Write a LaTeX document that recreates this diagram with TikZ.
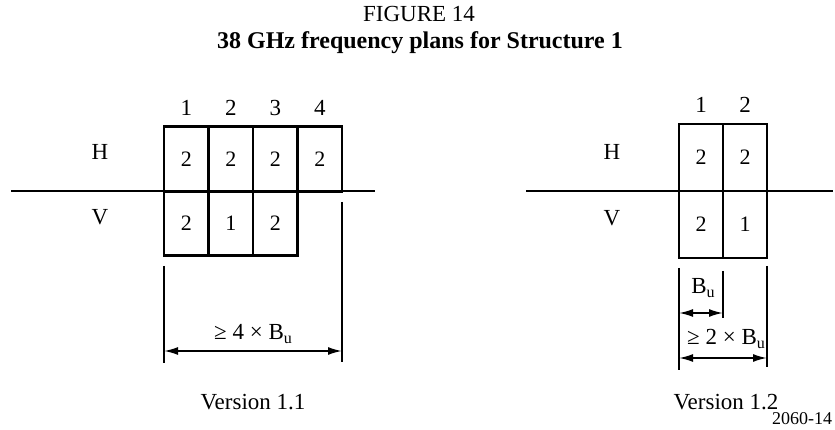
\documentclass[tikz,border=0pt]{standalone}
\usepackage{fontspec}
\setmainfont{Liberation Serif}
\usetikzlibrary{arrows.meta}

\newcommand{\Bu}{B\raisebox{-0.4ex}{\fontsize{16}{16}\selectfont u}}

\begin{document}
\begin{tikzpicture}[
    x=1pt, y=-1pt,
    txt/.style={font=\fontsize{23}{26}\selectfont, inner sep=0pt},
    cell/.style={draw, line width=2.8pt, minimum width=44.5pt, minimum height=64.5pt,
                 inner sep=0pt, font=\fontsize{22}{26}\selectfont},
    axis/.style={line width=1.8pt},
    ext/.style={line width=1.3pt},
    dim/.style={{Latex[length=14pt,width=8pt]}-{Latex[length=14pt,width=8pt]}, line width=1.8pt}
]
\useasboundingbox (0,0) rectangle (835,430);

% ============================================================
% Heading
% ============================================================
\node[txt] (fig) at (419,14) {FIGURE 14};
\node[txt, font=\fontsize{24}{28}\selectfont\bfseries] (title) at (420,43)
    {38 GHz frequency plans for Structure 1};

% ============================================================
% VERSION 1.1 (left)  x=164
% ============================================================
\foreach \i/\h in {1/2,2/2,3/2,4/2} {
    \node[cell] (ha\i) at (164+\i*44.5-22.25, 159) {\h};
    \node[txt] (na\i) at (164+\i*44.5-22.25, 108) {\i};
}
\foreach \i/\v in {1/2,2/1,3/2} {
    \node[cell] (va\i) at (164+\i*44.5-22.25, 223.5) {\v};
}
\node[txt] (Ha) at (100,152) {H};
\node[txt] (Va) at (100,217) {V};

% polarisation axis
\coordinate (axa1) at (11,191);
\coordinate (axa2) at (375,191);
\draw[axis] (axa1) -- (axa2);

% block width
\coordinate (la1) at (164,266);  \coordinate (la2) at (164,363);
\coordinate (ra1) at (342,202);  \coordinate (ra2) at (342,362);
\coordinate (la) at (164,351);   \coordinate (ra) at (342,351);
\draw[ext] (la1) -- (la2);
\draw[ext] (ra1) -- (ra2);
\draw[dim] (la) -- (ra);
\node[txt] (wa) at (253,334) {≥ 4 × \Bu};

\node[txt] (vera) at (253,402) {Version 1.1};

% ============================================================
% VERSION 1.2 (right)  x=679
% ============================================================
\foreach \i/\h in {1/2,2/2} {
    \node[cell, minimum width=44pt, minimum height=67pt] (hb\i) at (679+\i*44-22, 157.5) {\h};
    \node[txt] (nb\i) at (679+\i*44-22, 105) {\i};
}
\foreach \i/\v in {1/2,2/1} {
    \node[cell, minimum width=44pt, minimum height=67pt] (vb\i) at (679+\i*44-22, 224.5) {\v};
}
\node[txt] (Hb) at (612,152) {H};
\node[txt] (Vb) at (612,218) {V};

\coordinate (axb1) at (526,191);
\coordinate (axb2) at (833,191);
\draw[axis] (axb1) -- (axb2);

% unit bandwidth and block width
\coordinate (lb1) at (679,268);  \coordinate (lb2) at (679,370);
\coordinate (mb1) at (723,271);  \coordinate (mb2) at (723,318);
\coordinate (rb1) at (767,266);  \coordinate (rb2) at (767,367);
\coordinate (lbu) at (679,313);  \coordinate (mbu) at (723,313);
\coordinate (lbw) at (679,358);  \coordinate (rbw) at (767,358);
\draw[ext] (lb1) -- (lb2);
\draw[ext] (mb1) -- (mb2);
\draw[ext] (rb1) -- (rb2);
\draw[dim] (lbu) -- (mbu);
\draw[dim] (lbw) -- (rbw);
\node[txt] (bu) at (703,288) {\Bu};
\node[txt] (wb) at (726,339) {≥ 2 × \Bu};

\node[txt] (verb) at (726,402) {Version 1.2};
\node[txt, font=\fontsize{18}{20}\selectfont] (code) at (802,419) {2060-14};

\end{tikzpicture}
\end{document}
